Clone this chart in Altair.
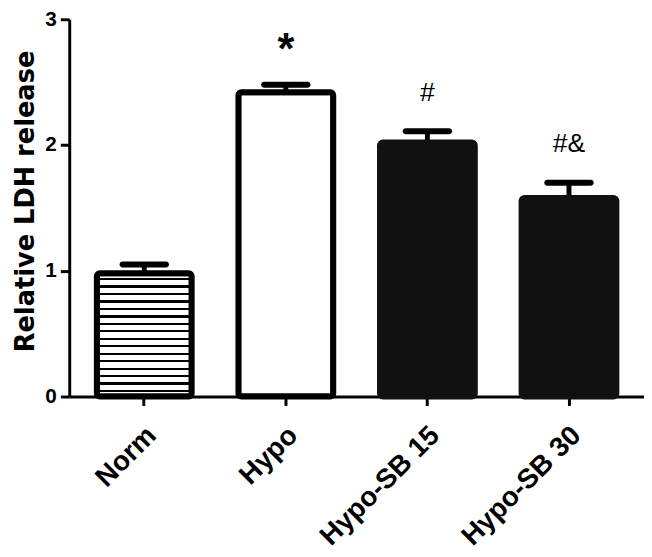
import altair as alt
import pandas as pd

groups = ["Norm", "Hypo", "Hypo-SB 15", "Hypo-SB 30"]
means = [0.98, 2.42, 2.02, 1.58]
errors = [0.07, 0.06, 0.09, 0.12]
marks = ["", "", "#", "#&"]
stars = ["", "*", "", ""]
styles = ["striped", "open", "solid", "solid"]

df = pd.DataFrame({"group": groups, "mean": means, "err": errors,
                   "mark": marks, "star": stars, "style": styles})
df["upper"] = df["mean"] + df["err"]

FONT = "Liberation Sans"
WIDE = "DejaVu Sans"

# horizontal stripe fill via hard-stop gradient
n_per = 16.5
stops = [alt.GradientStop(offset=0, color="white")]
k = 0
while True:
    s = (k + 0.62) / n_per
    e = (k + 0.92) / n_per
    if s >= 1:
        break
    e = min(e, 1)
    stops += [alt.GradientStop(offset=s, color="white"),
              alt.GradientStop(offset=s, color="black"),
              alt.GradientStop(offset=e, color="black"),
              alt.GradientStop(offset=e, color="white")]
    k += 1
stops.append(alt.GradientStop(offset=1, color="white"))
stripe = alt.LinearGradient(gradient="linear", stops=stops, x1=0, x2=0, y1=0, y2=1)

xenc = alt.X("group:N", sort=groups, title=None,
             scale=alt.Scale(paddingInner=0.33, paddingOuter=0.195),
             axis=alt.Axis(labelAngle=-45, labelFontSize=28, labelFontWeight="bold",
                           labelFont=FONT, labelColor="black", domainWidth=3,
                           domainColor="black", tickWidth=3, tickSize=9,
                           tickColor="black", labelPadding=16, labelOffset=-2))
yenc = alt.Y("mean:Q", scale=alt.Scale(domain=[0, 3], nice=False),
             axis=alt.Axis(values=[0, 1, 2, 3], format="d", title="Relative LDH release",
                           titleFontSize=26, titleFontWeight="bold", titleFont=WIDE,
                           titleColor="black", titleY=184, labelFontSize=21,
                           labelFontWeight="bold", labelFont=FONT, labelColor="black",
                           domainWidth=3, domainColor="black", tickWidth=3, tickSize=9,
                           tickColor="black", labelPadding=4, titlePadding=7, grid=False))

base = alt.Chart(df).encode(x=xenc)

rule = base.mark_rule(strokeWidth=5, color="black").encode(
    y=alt.Y("mean:Q"), y2="upper:Q")
cap = base.mark_tick(thickness=6, size=50, cornerRadius=3, color="black",
                     opacity=1).encode(y=alt.Y("upper:Q"))

bar_striped = base.transform_filter(alt.datum.style == "striped").mark_bar(
    fill=stripe, stroke="black", strokeWidth=6, cornerRadius=3).encode(y=yenc)
bar_open = base.transform_filter(alt.datum.style == "open").mark_bar(
    fill="white", stroke="black", strokeWidth=6, cornerRadius=3).encode(y=yenc)
bar_solid = base.transform_filter(alt.datum.style == "solid").mark_bar(
    fill="#111111", stroke="#111111", strokeWidth=6, cornerRadius=3).encode(y=yenc)

txt = base.mark_text(dy=-39, fontSize=27, font=FONT, color="black",
                     baseline="middle").encode(y=alt.Y("upper:Q"), text="mark:N")
star = base.mark_text(dy=-34, fontSize=44, font=FONT, fontWeight="bold", color="black",
                      baseline="middle").encode(y=alt.Y("upper:Q"), text="star:N")

chart = alt.layer(rule, cap, bar_striped, bar_open, bar_solid, txt, star).properties(
    width=582, height=382,
    autosize=alt.AutoSizeParams(type="none"),
    padding={"left": 62, "top": 8, "right": 0, "bottom": 155},
).configure_view(stroke=None)

chart.save("out.html", embed_options={"renderer": "svg", "actions": False})
